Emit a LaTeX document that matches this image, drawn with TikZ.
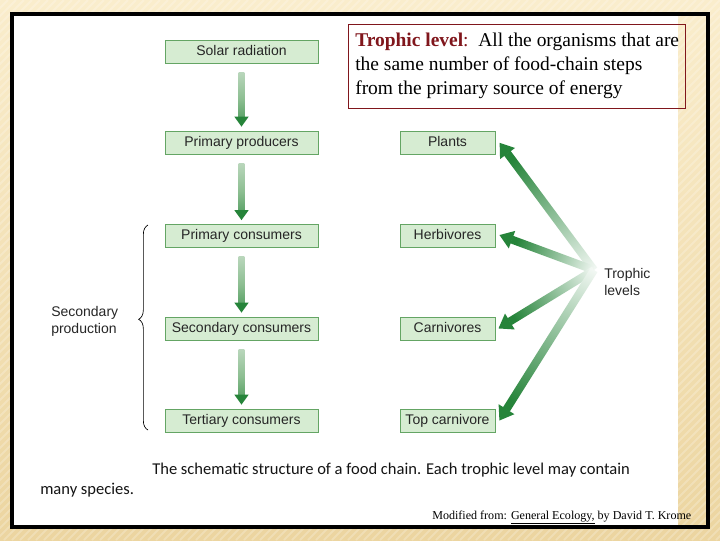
\documentclass[tikz,border=0pt]{standalone}
\usepackage{fontspec}
\setmainfont{Liberation Sans}
\newfontfamily\serifx{Liberation Serif}
\newfontfamily\capfont{Carlito}
\usetikzlibrary{calc,decorations.pathreplacing}
\definecolor{peachtop}{RGB}{250,237,204}
\definecolor{peachbot}{RGB}{236,213,160}
\definecolor{boxfill}{RGB}{214,236,210}
\definecolor{boxline}{RGB}{100,165,100}
\definecolor{arrgreen}{RGB}{38,132,58}
\definecolor{fadestart}{RGB}{222,234,222}
\definecolor{fademid}{RGB}{140,190,145}
\definecolor{defred}{RGB}{128,22,28}

\pgfdeclarehorizontalshading{fanfade}{100bp}{color(0bp)=(white); color(22bp)=(white);
  color(72bp)=(arrgreen); color(100bp)=(arrgreen)}
\pgfdeclarehorizontalshading{downfade}{100bp}{color(0bp)=(fadestart);
  color(55bp)=(fademid); color(100bp)=(arrgreen)}

% faded arrow: #1 start, #2 tip, #3 shaft half width, #4 head half width, #5 head length, #6 shading
\newcommand\fadearrow[6]{%
  \coordinate (fa-s) at (#1);
  \coordinate (fa-t) at (#2);
  \path let \p1=($(fa-t)-(fa-s)$) in
    \pgfextra{\pgfmathsetmacro\faang{atan2(\y1,\x1)}\global\let\faang\faang
              \pgfmathsetmacro\falen{veclen(\x1,\y1)}\global\let\falen\falen};
  \begin{scope}[transform canvas={shift={(fa-s)}, rotate=\faang}]
    \shade[shading=#6] (0pt,-#3) rectangle (\falen pt-#5+0.3pt, #3);
    \fill[arrgreen] (\falen pt-#5,-#4) -- (\falen pt,0pt) -- (\falen pt-#5,#4) -- cycle;
  \end{scope}
}

\tikzset{
  gbox/.style={draw=boxline, fill=boxfill, line width=0.6pt, minimum height=17.25pt,
    inner sep=0pt, text height=7.6pt, text depth=2.1pt,
    font=\fontsize{10.5}{12}\selectfont, text=black!85},
  lbox/.style={gbox, minimum width=114.75pt},
  rbox/.style={gbox, minimum width=71.25pt},
  plain/.style={inner sep=0pt, font=\fontsize{10.5}{12.75}\selectfont, text=black!85, align=left},
  captext/.style={anchor=base west, inner sep=0pt, font=\capfont\fontsize{12.4}{14}\selectfont, text=black!92},
}

\begin{document}
\begin{tikzpicture}[x=0.75pt, y=-0.75pt]
\useasboundingbox (0,0) rectangle (720,540);
% background
\shade[top color=peachtop, bottom color=peachbot] (0,0) rectangle (720,540);
\foreach \k in {-540,-532,...,720}
  \draw[white, opacity=0.22, line width=1.5pt] (\k,540) -- (\k+540,0);
\fill[white] (13,15) rectangle (678,526);
\draw[line width=3pt] (12,14) rectangle (708,527);

% left column
\node[lbox] (solar) at (241.5,51.5) {Solar radiation};
\node[lbox] (prod)  at (241.5,142.5) {Primary producers};
\node[lbox] (pcons) at (241.5,236) {Primary consumers};
\node[lbox] (scons) at (241.5,328.5) {Secondary consumers};
\node[lbox] (tcons) at (241.5,420.5) {Tertiary consumers};

% right column
\node[rbox] (plants) at (447.5,142.5) {Plants};
\node[rbox] (herb)   at (447.5,236) {Herbivores};
\node[rbox] (carn)   at (447.5,328.5) {Carnivores};
\node[rbox] (topc)   at (447.5,420.5) {Top carnivore};

% down arrows
\fadearrow{$(solar.south)+(0,9)$}{$(prod.north)+(0,-4)$}{2.2pt}{5.4pt}{7.5pt}{downfade}
\fadearrow{$(prod.south)+(0,9)$}{$(pcons.north)+(0,-4)$}{2.2pt}{5.4pt}{7.5pt}{downfade}
\fadearrow{$(pcons.south)+(0,9)$}{$(scons.north)+(0,-4)$}{2.2pt}{5.4pt}{7.5pt}{downfade}
\fadearrow{$(scons.south)+(0,9)$}{$(tcons.north)+(0,-4)$}{2.2pt}{5.4pt}{7.5pt}{downfade}

% fan arrows
\coordinate (fan) at (594,270);
\fadearrow{fan}{$(plants.east)+(4,0)$}{3pt}{7pt}{10pt}{fanfade}
\fadearrow{fan}{$(herb.east)+(4,-1)$}{3pt}{7pt}{10pt}{fanfade}
\fadearrow{fan}{$(carn.east)+(3,0)$}{3pt}{7pt}{10pt}{fanfade}
\fadearrow{fan}{$(topc.east)+(4,0)$}{3pt}{7pt}{10pt}{fanfade}

\node[plain, anchor=west] (trlev) at (604,281.5) {Trophic\\levels};

% brace
\coordinate (brb) at (148,430);
\coordinate (brt) at (148,225);
\draw[decorate, decoration={brace, amplitude=7pt, aspect=0.54}, line width=0.5pt] (brb) -- (brt);
\node[plain, anchor=west] (secprod) at (51,321.5) {Secondary\\production};

% definition box
\node[draw=defred, line width=0.8pt, minimum width=252.75pt, minimum height=63pt,
      anchor=north west, inner sep=0pt] (defbox) at (348,24) {};
\node[anchor=north west, inner sep=0pt, align=left,
      font=\serifx\fontsize{14.6}{18}\selectfont] (deftext) at (355,33)
  {\textcolor{defred}{\textbf{Trophic level}:}\ \ All the organisms that are\\
   the same number of food-chain steps\\
   from the primary source of energy};

% caption
\node[captext] (cap1) at (152,474) {The schematic structure of a food chain. Each trophic level may contain};
\node[captext] (cap2) at (40,494) {many species.};

% credit
\node[anchor=base west, inner sep=0pt, font=\serifx\fontsize{9.05}{11}\selectfont]
  (credit) at (432,519) {Modified from: \underline{General Ecology,} by David T. Krome};
\end{tikzpicture}
\end{document}
